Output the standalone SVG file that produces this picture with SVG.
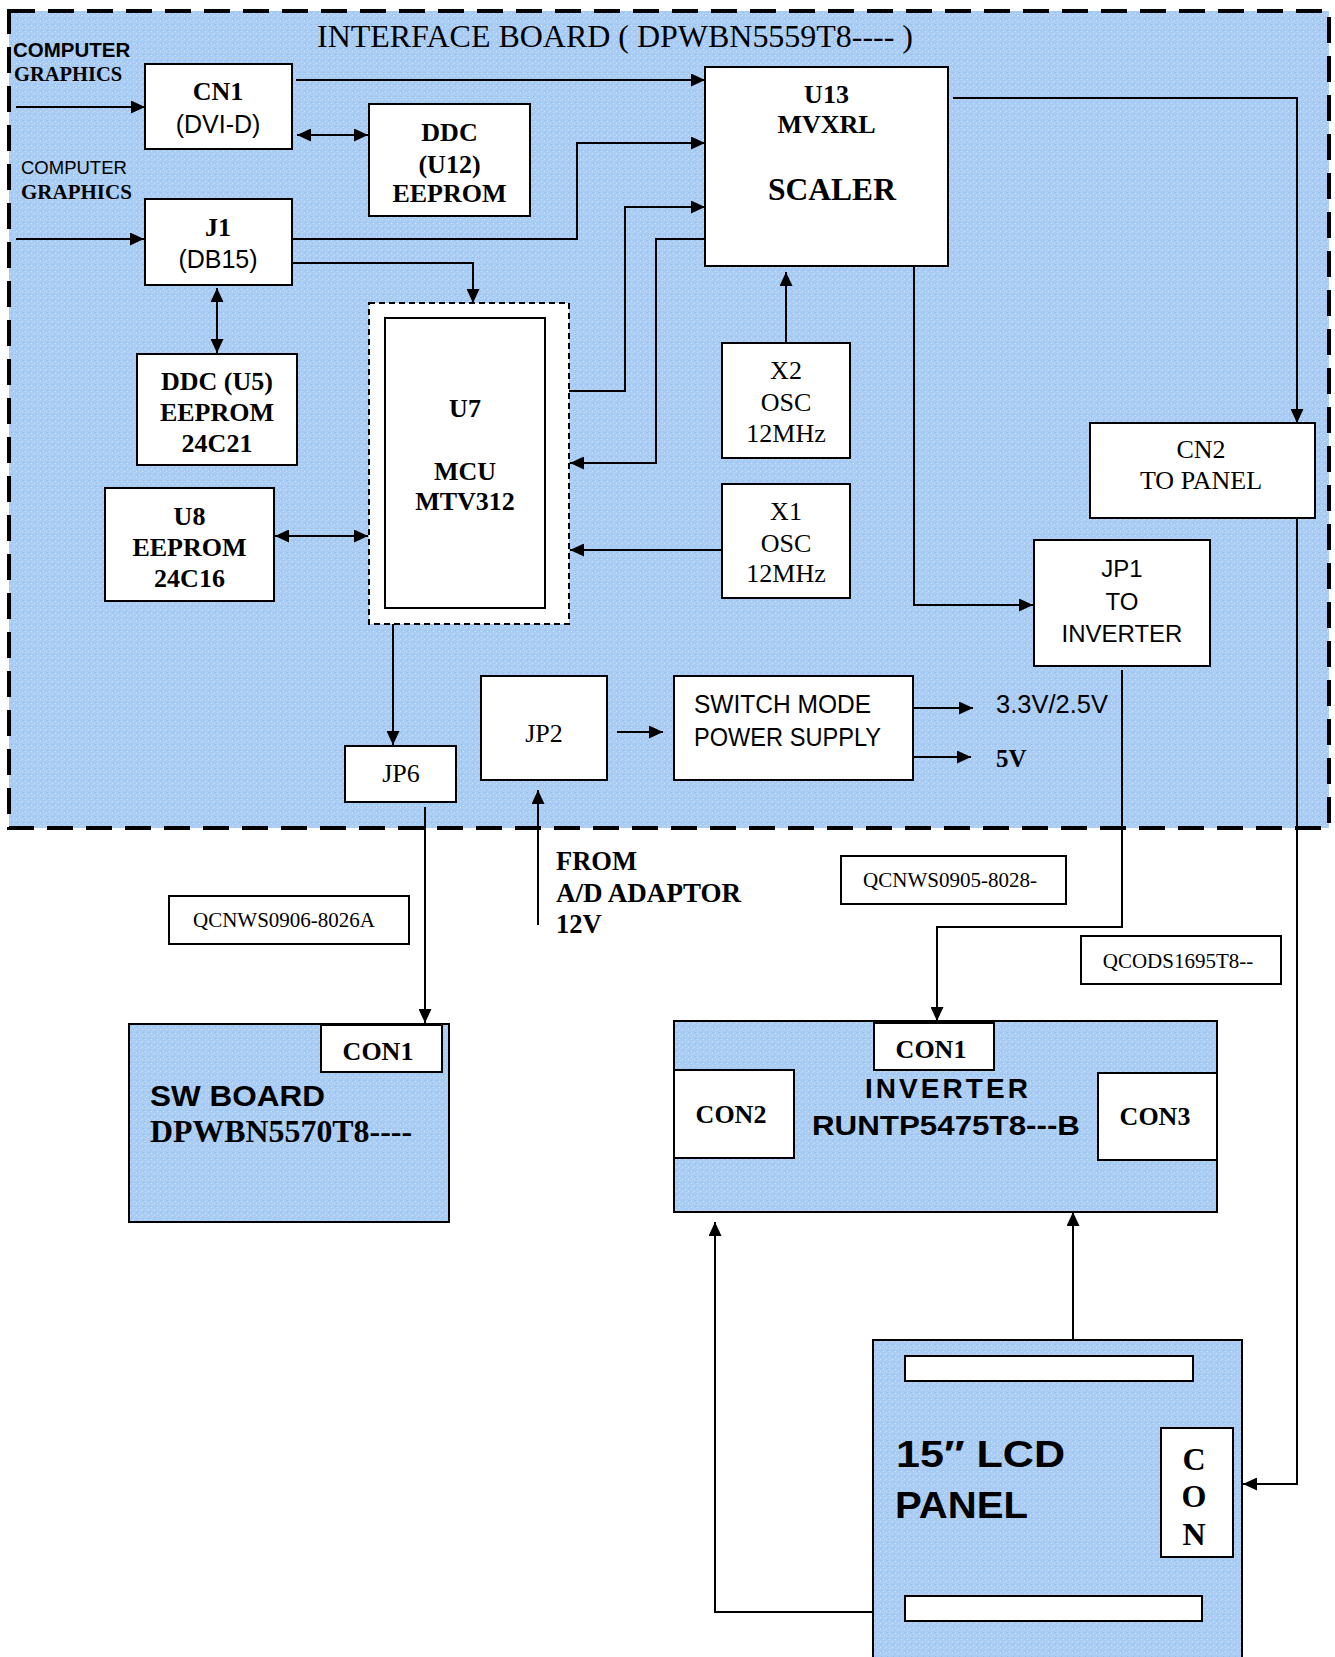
<svg xmlns="http://www.w3.org/2000/svg" width="1335" height="1657" viewBox="0 0 1335 1657">
<style>
.sb{font-family:"Liberation Serif","Times New Roman",serif;font-weight:bold;fill:#000}
.sr{font-family:"Liberation Serif","Times New Roman",serif;fill:#000}
.ss{font-family:"Liberation Sans",Arial,sans-serif;fill:#000}
.ssb{font-family:"Liberation Sans",Arial,sans-serif;font-weight:bold;fill:#000}
.c{text-anchor:middle}
.box{fill:#fff;stroke:#000;stroke-width:2}
.board{fill:url(#tex);stroke:#000;stroke-width:2}
.ln{fill:none;stroke:#000;stroke-width:2}
.ar{marker-end:url(#ah)}
.da{marker-start:url(#ah);marker-end:url(#ah)}
</style>
<defs>
<pattern id="tex" width="6" height="6" patternUnits="userSpaceOnUse">
<rect width="6" height="6" fill="#a8ccf4"/>
<rect x="1" y="1" width="1" height="1" fill="#d3e6fb"/>
<rect x="4" y="3" width="1" height="1" fill="#d3e6fb"/>
<rect x="2" y="4" width="1" height="1" fill="#c2dcf8"/>
<rect x="5" y="0" width="1" height="1" fill="#93bfee"/>
</pattern>
<marker id="ah" markerUnits="userSpaceOnUse" markerWidth="14" markerHeight="13" refX="14" refY="6.5" orient="auto-start-reverse">
<path d="M0,0 L14,6.5 L0,13 z" fill="#000"/>
</marker>
</defs>
<rect width="1335" height="1657" fill="#fff"/>

<g id="interface-board">
<rect x="9" y="11" width="1320" height="817" fill="url(#tex)" stroke="#000" stroke-width="4" stroke-dasharray="26 13"/>
<text class="sr" x="317" y="47" font-size="32" textLength="596">INTERFACE BOARD ( DPWBN5559T8---- )</text>
<text class="ssb" x="13" y="57" font-size="20.5">COMPUTER</text>
<text class="sb" x="14" y="81" font-size="20.5">GRAPHICS</text>
<text class="ss" x="21" y="174" font-size="18.5">COMPUTER</text>
<text class="sb" x="21" y="199" font-size="21">GRAPHICS</text>
</g>

<g id="cn1"><rect class="box" x="145" y="64" width="147" height="85"/>
<text class="sb c" x="218" y="100" font-size="26">CN1</text>
<text class="ss c" x="218" y="133" font-size="25">(DVI-D)</text></g>

<g id="ddc-u12"><rect class="box" x="369" y="104" width="161" height="112"/>
<text class="sb c" x="449.5" y="141" font-size="26">DDC</text>
<text class="sb c" x="449.5" y="173" font-size="26">(U12)</text>
<text class="sb c" x="449.5" y="202" font-size="26">EEPROM</text></g>

<g id="j1"><rect class="box" x="145" y="199" width="147" height="86"/>
<text class="sb c" x="218" y="236" font-size="26">J1</text>
<text class="ss c" x="218" y="268" font-size="25">(DB15)</text></g>

<g id="u13"><rect class="box" x="705" y="67" width="243" height="199"/>
<text class="sb c" x="826.5" y="103" font-size="26">U13</text>
<text class="sb c" x="826.5" y="133" font-size="26">MVXRL</text>
<text class="sb c" x="832" y="200" font-size="31.5">SCALER</text></g>

<g id="ddc-u5"><rect class="box" x="137" y="354" width="160" height="111"/>
<text class="sb c" x="217" y="390" font-size="26">DDC (U5)</text>
<text class="sb c" x="217" y="421" font-size="26">EEPROM</text>
<text class="sb c" x="217" y="452" font-size="26">24C21</text></g>

<g id="u8"><rect class="box" x="105" y="488" width="169" height="113"/>
<text class="sb c" x="189.5" y="525" font-size="26">U8</text>
<text class="sb c" x="189.5" y="556" font-size="26">EEPROM</text>
<text class="sb c" x="189.5" y="587" font-size="26">24C16</text></g>

<g id="u7"><rect x="369" y="303" width="200" height="321" fill="#fff" stroke="#000" stroke-width="2" stroke-dasharray="6 4"/>
<rect class="box" x="385" y="318" width="160" height="290"/>
<text class="sb c" x="465" y="417" font-size="26">U7</text>
<text class="sb c" x="465" y="480" font-size="26">MCU</text>
<text class="sb c" x="465" y="510" font-size="26">MTV312</text></g>

<g id="x2"><rect class="box" x="722" y="343" width="128" height="115"/>
<text class="sr c" x="786" y="379" font-size="26">X2</text>
<text class="sr c" x="786" y="411" font-size="26">OSC</text>
<text class="sr c" x="786" y="442" font-size="26">12MHz</text></g>

<g id="x1"><rect class="box" x="722" y="484" width="128" height="114"/>
<text class="sr c" x="786" y="520" font-size="26">X1</text>
<text class="sr c" x="786" y="552" font-size="26">OSC</text>
<text class="sr c" x="786" y="582" font-size="26">12MHz</text></g>

<g id="cn2"><rect class="box" x="1090" y="423" width="225" height="95"/>
<text class="sr c" x="1201" y="458" font-size="26">CN2</text>
<text class="sr c" x="1201" y="489" font-size="26">TO PANEL</text></g>

<g id="jp1"><rect class="box" x="1034" y="540" width="176" height="126"/>
<text class="ss c" x="1122" y="577" font-size="24">JP1</text>
<text class="ss c" x="1122" y="610" font-size="24">TO</text>
<text class="ss c" x="1122" y="642" font-size="24">INVERTER</text></g>

<g id="jp6"><rect class="box" x="345" y="746" width="111" height="56"/>
<text class="sr c" x="401" y="782" font-size="26">JP6</text></g>

<g id="jp2"><rect class="box" x="481" y="676" width="126" height="104"/>
<text class="sr c" x="544" y="742" font-size="26">JP2</text></g>

<g id="smps"><rect class="box" x="674" y="676" width="239" height="104"/>
<text class="ss" x="694" y="713" font-size="25" textLength="177" lengthAdjust="spacingAndGlyphs">SWITCH MODE</text>
<text class="ss" x="694" y="746" font-size="25" textLength="187" lengthAdjust="spacingAndGlyphs">POWER SUPPLY</text></g>

<g id="out-labels">
<text class="ss" x="996" y="713" font-size="25.5">3.3V/2.5V</text>
<text class="sb" x="996" y="767" font-size="25">5V</text>
</g>

<g id="adaptor">
<text class="sb" x="556" y="870" font-size="26.5">FROM</text>
<text class="sb" x="556" y="902" font-size="26.5" textLength="185" lengthAdjust="spacingAndGlyphs">A/D ADAPTOR</text>
<text class="sb" x="556" y="933" font-size="26.5">12V</text>
</g>

<g id="cable-8026A"><rect class="box" x="169" y="896" width="240" height="48"/>
<text class="sr c" x="284" y="927" font-size="21">QCNWS0906-8026A</text></g>
<g id="cable-8028"><rect class="box" x="841" y="856" width="225" height="48"/>
<text class="sr c" x="950" y="887" font-size="21">QCNWS0905-8028-</text></g>
<g id="cable-1695"><rect class="box" x="1081" y="936" width="200" height="48"/>
<text class="sr c" x="1178" y="968" font-size="21">QCODS1695T8--</text></g>

<g id="sw-board"><rect class="board" x="129" y="1024" width="320" height="198"/>
<rect class="box" x="321" y="1025" width="121" height="47"/>
<text class="sb c" x="378" y="1060" font-size="26">CON1</text>
<text class="ssb" x="150" y="1106" font-size="29" textLength="175" lengthAdjust="spacingAndGlyphs">SW BOARD</text>
<text class="sb" x="150" y="1142" font-size="31" textLength="262" lengthAdjust="spacingAndGlyphs">DPWBN5570T8----</text></g>

<g id="inverter"><rect class="board" x="674" y="1021" width="543" height="191"/>
<rect class="box" x="874" y="1023" width="120" height="47"/>
<text class="sb c" x="931" y="1058" font-size="26">CON1</text>
<rect class="box" x="674" y="1070" width="120" height="88"/>
<text class="sb c" x="731" y="1123" font-size="26">CON2</text>
<rect class="box" x="1098" y="1073" width="119" height="87"/>
<text class="sb c" x="1155" y="1125" font-size="26">CON3</text>
<text class="ssb c" x="946.5" y="1098" font-size="28" textLength="163" lengthAdjust="spacing">INVERTER</text>
<text class="ssb c" x="946" y="1135" font-size="28" textLength="268" lengthAdjust="spacingAndGlyphs">RUNTP5475T8---B</text></g>

<g id="lcd-panel"><rect class="board" x="873" y="1340" width="369" height="330"/>
<rect class="box" x="905" y="1356" width="288" height="25"/>
<rect class="box" x="905" y="1596" width="297" height="25"/>
<rect class="box" x="1161" y="1428" width="72" height="129"/>
<text class="sb c" x="1194" y="1470" font-size="32">C</text>
<text class="sb c" x="1194" y="1507" font-size="32">O</text>
<text class="sb c" x="1194" y="1545" font-size="32">N</text>
<text class="ssb" x="896" y="1467" font-size="37" textLength="169" lengthAdjust="spacingAndGlyphs">15″ LCD</text>
<text class="ssb" x="895" y="1518" font-size="37" textLength="133" lengthAdjust="spacingAndGlyphs">PANEL</text></g>

<g id="connectors">
<path class="ln ar" d="M16,107 H145"/>
<path class="ln ar" d="M16,239 H144"/>
<path class="ln ar" d="M296,80 H705"/>
<path class="ln da" d="M297,135 H368"/>
<path class="ln ar" d="M292,239 H577 V143 H705"/>
<path class="ln ar" d="M292,263 H473 V303"/>
<path class="ln da" d="M217,288 V353"/>
<path class="ln ar" d="M569,391 H625 V207 H705"/>
<path class="ln ar" d="M705,239 H656 V463 H570"/>
<path class="ln ar" d="M786,343 V272"/>
<path class="ln ar" d="M722,550 H570"/>
<path class="ln da" d="M275,536 H368"/>
<path class="ln ar" d="M953,98 H1297 V423"/>
<path class="ln ar" d="M914,266 V605 H1033"/>
<path class="ln ar" d="M393,624 V745"/>
<path class="ln ar" d="M617,732 H663"/>
<path class="ln ar" d="M914,708 H973"/>
<path class="ln ar" d="M914,757 H971"/>
<path class="ln ar" d="M538,925 V790"/>
<path class="ln ar" d="M425,807 V1023"/>
<path class="ln ar" d="M1122,670 V927 H937 V1021"/>
<path class="ln ar" d="M1297,518 V1484 H1243"/>
<path class="ln ar" d="M1073,1340 V1212"/>
<path class="ln ar" d="M873,1612 H715 V1222"/>
</g>
</svg>
